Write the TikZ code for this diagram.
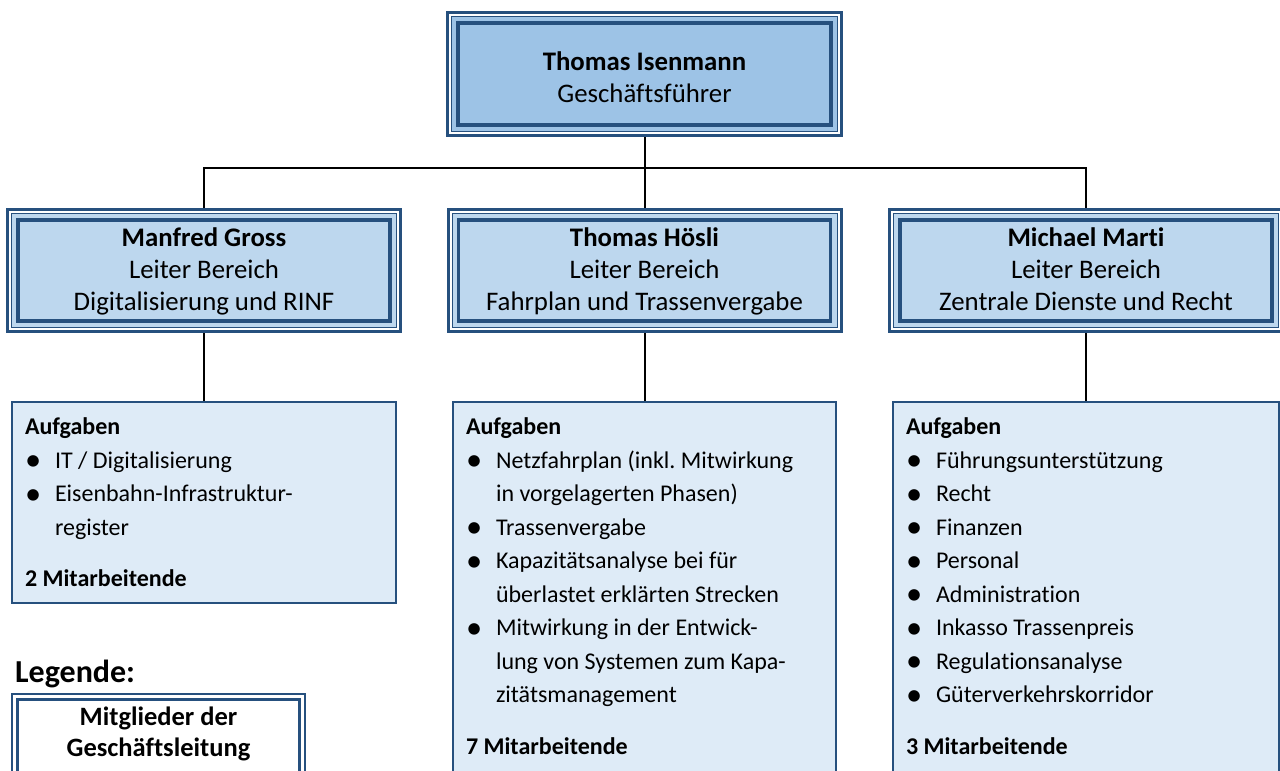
\documentclass[tikz,border=0pt]{standalone}
\usepackage{fontspec}
\setmainfont{Carlito}[Ligatures=NoCommon]
\definecolor{rahmenblau}{RGB}{38,80,126}
\definecolor{chefblau}{RGB}{157,195,230}
\definecolor{leiterblau}{RGB}{189,215,238}
\definecolor{aufgabenblau}{RGB}{222,235,247}
\newcommand{\punkt}[1]{\makebox[30pt][l]{\raisebox{-2.5pt}[0pt][0pt]{\scalebox{1.35}{\textbullet}}}#1}
\newcommand{\weiter}[1]{\hspace*{30pt}#1}
\tikzset{
	leiter/.style={draw=rahmenblau,line width=3pt,inner sep=0pt,anchor=north west},
	legendenbox/.style={draw=rahmenblau,line width=2pt,fill=white,inner sep=0pt,anchor=north west},
	aufgaben/.style={draw=rahmenblau,line width=2pt,fill=aufgabenblau,inner xsep=13pt,inner ysep=0pt,anchor=north west},
	linie/.style={line width=2pt,black}
}
\frenchspacing

\begin{document}
\begin{tikzpicture}[x=1pt,y=-1pt]
			\fill[white] (0,0) rectangle (1280,771);
			\useasboundingbox (0,0) rectangle (1280,771);
			\coordinate (gf_pos) at (446,11);
			\coordinate (gross_pos) at (6,208);
			\coordinate (hoesli_pos) at (446.5,208);
			\coordinate (marti_pos) at (888,208);
			\coordinate (verteiler) at (644.5,168);
			\coordinate (a_gross_pos) at (11,401);
			\coordinate (a_hoesli_pos) at (452,401);
			\coordinate (a_marti_pos) at (892,401);
			\coordinate (legende_pos) at (11,693);

			\node[leiter,fill=chefblau] (gf) at (gf_pos) {\begin{minipage}[t][123pt][t]{394pt}\centering\fontsize{26.8}{32}\selectfont
				\vspace*{36pt}\strut\textbf{Thomas Isenmann}\\Geschäftsführer\end{minipage}};
			\node[leiter,fill=leiterblau] (gross) at (gross_pos) {\begin{minipage}[t][122pt][t]{393pt}\centering\fontsize{26.8}{32}\selectfont
				\vspace*{14.8pt}\strut\textbf{Manfred Gross}\\Leiter Bereich\\Digitalisierung und RINF\end{minipage}};
			\node[leiter,fill=leiterblau] (hoesli) at (hoesli_pos) {\begin{minipage}[t][122pt][t]{393pt}\centering\fontsize{26.8}{32}\selectfont
				\vspace*{14.8pt}\strut\textbf{Thomas Hösli}\\Leiter Bereich\\Fahrplan und Trassenvergabe\end{minipage}};
			\node[leiter,fill=leiterblau] (marti) at (marti_pos) {\begin{minipage}[t][122pt][t]{393pt}\centering\fontsize{26.8}{32}\selectfont
				\vspace*{14.8pt}\strut\textbf{Michael Marti}\\Leiter Bereich\\Zentrale Dienste und Recht\end{minipage}};

			\node[aufgaben] (a_gross) at (a_gross_pos) {\begin{minipage}[t][201pt][t]{358pt}\fontsize{24}{33.5}\selectfont
				\vspace*{9.5pt}\strut\textbf{Aufgaben}\\
				\punkt{IT / Digitalisierung}\\
				\punkt{Eisenbahn-Infrastruktur-}\\
				\weiter{register}\\[18pt]
				\textbf{2 Mitarbeitende}\end{minipage}};
			\node[aufgaben] (a_hoesli) at (a_hoesli_pos) {\begin{minipage}[t][400pt][t]{357pt}\fontsize{24}{33.5}\selectfont
				\vspace*{9.5pt}\strut\textbf{Aufgaben}\\
				\punkt{Netzfahrplan (inkl. Mitwirkung}\\
				\weiter{in vorgelagerten Phasen)}\\
				\punkt{Trassenvergabe}\\
				\punkt{Kapazitätsanalyse bei für}\\
				\weiter{überlastet erklärten Strecken}\\
				\punkt{Mitwirkung in der Entwick-}\\
				\weiter{lung von Systemen zum Kapa-}\\
				\weiter{zitätsmanagement}\\[18pt]
				\textbf{7 Mitarbeitende}\end{minipage}};
			\node[aufgaben] (a_marti) at (a_marti_pos) {\begin{minipage}[t][400pt][t]{360pt}\fontsize{24}{33.5}\selectfont
				\vspace*{9.5pt}\strut\textbf{Aufgaben}\\
				\punkt{Führungsunterstützung}\\
				\punkt{Recht}\\
				\punkt{Finanzen}\\
				\punkt{Personal}\\
				\punkt{Administration}\\
				\punkt{Inkasso Trassenpreis}\\
				\punkt{Regulationsanalyse}\\
				\punkt{Güterverkehrskorridor}\\[18pt]
				\textbf{3 Mitarbeitende}\end{minipage}};

			\node[anchor=base west,inner sep=0pt,font=\fontsize{32}{38}\selectfont\bfseries] (legende_titel) at (15,682) {Legende:};
			\node[legendenbox] (legende) at (legende_pos) {\begin{minipage}[t][104pt][t]{293pt}\centering\fontsize{26.5}{30.7}\selectfont\bfseries
				\vspace*{10.5pt}\strut Mitglieder der\\Geschäftsleitung\end{minipage}};

			\foreach \n in {gf,gross,hoesli,marti}{
				\draw[white,line width=2pt] ([shift={(4pt,-4pt)}]\n.north west) rectangle ([shift={(-4pt,4pt)}]\n.south east);
				\draw[rahmenblau,line width=1pt] ([shift={(5.5pt,-5.5pt)}]\n.north west) rectangle ([shift={(-5.5pt,5.5pt)}]\n.south east);
				\draw[rahmenblau,line width=3.8pt] ([shift={(12pt,-12pt)}]\n.north west) rectangle ([shift={(-12pt,12pt)}]\n.south east);
			}
			\draw[rahmenblau,line width=2.7pt] ([shift={(6.3pt,-6.3pt)}]legende.north west) rectangle ([shift={(-6.3pt,6.3pt)}]legende.south east);

			\draw[linie] (gf.south) -- (hoesli.north);
			\draw[linie] (gross.north) |- (verteiler) -| (marti.north);
			\draw[linie] (gross.south) -- (a_gross.north);
			\draw[linie] (hoesli.south) -- (a_hoesli.north);
			\draw[linie] (marti.south) -- (a_marti.north);
		\end{tikzpicture}
\end{document}
